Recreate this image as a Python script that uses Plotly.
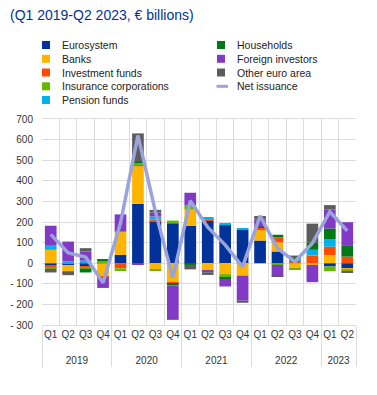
import plotly.graph_objects as go

years = ["2019"] * 4 + ["2020"] * 4 + ["2021"] * 4 + ["2022"] * 4 + ["2023"] * 2
quarters = ["Q1", "Q2", "Q3", "Q4"] * 4 + ["Q1", "Q2"]

eurosystem = [-12, -10, -14, 5, 40, 288, 203, 194, 182, 206, 185, 162, 110, 57, 0, 0, -16, -24]
banks = [65, -28, -3, -65, 113, 182, -29, -92, 78, -36, -53, -60, 55, 44, -25, -8, 40, -8]
investment_funds = [-10, -5, -5, -3, -25, 11, 8, -8, 0, 8, 0, 0, 7, 24, 13, 37, 40, 32]
insurance = [-5, 0, -5, 8, -13, 8, -5, 13, 20, 4, -15, 0, 0, -8, -5, 0, -23, -8]
pension = [20, 8, 13, 0, 0, 0, 16, 0, -3, 5, 10, 8, 0, 0, 8, 28, 37, 0]
households = [0, 0, -18, 6, 0, 5, 0, -8, -5, 0, -8, 0, 5, 13, 8, 36, 52, 52]
foreign = [97, 97, 44, -52, 84, -5, 19, -167, 62, -8, -37, -122, 36, -54, 0, -84, 92, 115]
other_euro = [-18, -15, 16, 0, 0, 136, 13, 0, -22, -13, 0, -10, 16, -5, 8, 91, 21, -5]
net_issuance = [140, 50, 30, -95, 195, 620, 250, -70, 303, 175, 89, -18, 230, 72, 8, 97, 250, 157]

y_ticks = [-300, -200, -100, 0, 100, 200, 300, 400, 500, 600, 700]
y_tick_text = ["- 300", "- 200", "- 100", "0", "100", "200", "300", "400", "500", "600", "700"]

series = [
    ("Eurosystem", eurosystem, "#003299"),
    ("Banks", banks, "#ffb400"),
    ("Investment funds", investment_funds, "#ff4b00"),
    ("Insurance corporations", insurance, "#65b800"),
    ("Pension funds", pension, "#00b1ea"),
    ("Households", households, "#007816"),
    ("Foreign investors", foreign, "#8139c6"),
    ("Other euro area", other_euro, "#5c5c5c"),
]
line_name = "Net issuance"
line_color = "#9aa3db"

W, H = 377, 395
L, R, T, B = 42, 21, 119, 70

fig = go.Figure()
# year labels sit on a second line to give the year row more room
year_labels = ["<br>" + yv for yv in years]
x = [year_labels, quarters]
for name, vals, col in series:
    fig.add_trace(go.Bar(x=x, y=vals, name=name, marker=dict(color=col, line=dict(width=0)),
                         showlegend=False))
fig.add_trace(go.Scatter(x=x, y=net_issuance, name=line_name, mode="lines",
                         line=dict(color=line_color, width=3.5), showlegend=False))

def px2x(px):
    return (px - L) / (W - L - R)

def py2y(py):
    return (H - B - py) / (H - T - B)

# custom two-column legend
legend_items = [(n, c, "box") for n, _, c in series[:5]] + \
               [(n, c, "box") for n, _, c in series[5:]] + [(line_name, line_color, "line")]
col_x = [42, 217]
row_y = [45, 58.8, 72.5, 86.3, 100]
shapes = []
annotations = []
for i, (name, col, kind) in enumerate(legend_items):
    if i < 5:
        cx, ry = col_x[0], row_y[i]
    else:
        cx, ry = col_x[1], row_y[i - 5]
    if kind == "box":
        shapes.append(dict(type="rect", xref="paper", yref="paper",
                           x0=px2x(cx), x1=px2x(cx + 8), y0=py2y(ry + 4), y1=py2y(ry - 4),
                           fillcolor=col, line=dict(width=0)))
    else:
        shapes.append(dict(type="line", xref="paper", yref="paper",
                           x0=px2x(cx - 0.5), x1=px2x(cx + 11), y0=py2y(ry), y1=py2y(ry),
                           line=dict(color=col, width=3)))
    annotations.append(dict(text=name, xref="paper", yref="paper", x=px2x(cx + 18), y=py2y(ry),
                            xanchor="left", yanchor="middle", showarrow=False,
                            font=dict(size=10.5, color="#222222", family="Liberation Sans, Arial")))

annotations.append(dict(text="(Q1 2019-Q2 2023, € billions)", xref="paper", yref="paper",
                        x=px2x(8), y=py2y(15), xanchor="left", yanchor="middle", showarrow=False,
                        font=dict(size=14, color="#003299", family="Liberation Sans, Arial")))

fig.update_layout(
    width=W, height=H,
    margin=dict(l=L, r=R, t=T, b=B, pad=0, autoexpand=False),
    barmode="relative",
    bargap=0.33,
    plot_bgcolor="white",
    paper_bgcolor="white",
    font=dict(family="Liberation Sans, Arial", size=10, color="#333333"),
    shapes=shapes,
    annotations=annotations,
    showlegend=False,
)
fig.update_yaxes(range=[-300, 700], tickvals=y_ticks, ticktext=y_tick_text, automargin=False,
                 showgrid=True, gridcolor="#dcdcdc", gridwidth=1, zeroline=False,
                 showline=False, ticks="outside", ticklen=6, tickcolor="rgba(0,0,0,0)",
                 tickfont=dict(size=10, color="#333333"))
fig.update_xaxes(type="multicategory", showgrid=True, gridcolor="#dcdcdc", gridwidth=1,
                 automargin=False, tickangle=0,
                 ticks="outside", ticklen=4, tickcolor="rgba(0,0,0,0)",
                 showdividers=True, dividercolor="#dcdcdc", dividerwidth=1,
                 showline=True, linecolor="#dcdcdc", mirror=True,
                 tickfont=dict(size=10, color="#333333"))

fig.write_html("out.html",
               config={"displayModeBar": False},
               post_script="document.body.style.margin='0';document.body.style.padding='0';")
